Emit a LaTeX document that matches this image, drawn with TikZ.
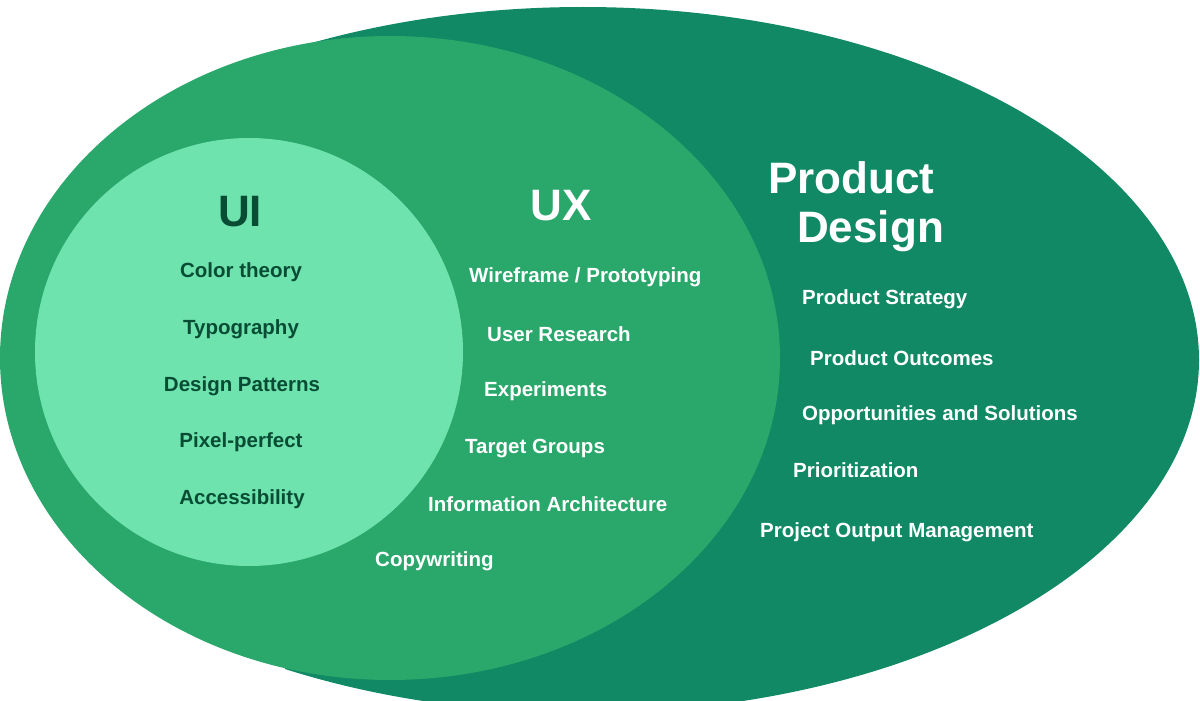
\documentclass[tikz,border=0pt]{standalone}
\usepackage{fontspec}
\setmainfont{Liberation Sans}
\usepackage{tikz}
\usetikzlibrary{positioning}
\usepackage{xcolor}

\definecolor{pdgreen}{RGB}{16,137,100}
\definecolor{uxgreen}{RGB}{42,167,107}
\definecolor{uigreen}{RGB}{110,227,174}
\definecolor{uiink}{RGB}{8,76,52}

\tikzset{
  heading/.style={font=\bfseries\fontsize{44}{48}\selectfont, inner sep=0pt},
  item/.style={font=\bfseries\fontsize{20.5}{24}\selectfont, inner sep=0pt, yshift=-1.5pt},
  uiitem/.style={item, text=uiink},
  uxitem/.style={item, text=white, anchor=west},
  pditem/.style={item, text=white, anchor=west},
}

\begin{document}
\begin{tikzpicture}[x=1pt, y=-1pt]
  \useasboundingbox (0,0) rectangle (1200,701);
  % the three sets
  \begin{scope}
    \clip (285,0) rectangle (1200,701);
    \fill[pdgreen] (583,360) ellipse [x radius=616pt, y radius=353pt];
  \end{scope}
  \fill[uxgreen] (390,358) ellipse [x radius=390pt, y radius=322pt];
  \fill[uigreen] (249,352) circle [radius=214pt];

  % UI
  \node[heading, text=uiink] (ui) at (240,212) {UI};
  \node[uiitem] (uiColor) at (241,271) {Color theory};
  \node[uiitem] (uiType) at (241,328) {Typography};
  \node[uiitem] (uiPatterns) at (242,385) {Design Patterns};
  \node[uiitem] (uiPixel) at (241,441) {Pixel-perfect};
  \node[uiitem] (uiAccess) at (242,498) {Accessibility};

  % UX
  \node[heading, text=white] (ux) at (561,206) {UX};
  \node[uxitem] (uxWire) at (469,276) {Wireframe / Prototyping};
  \node[uxitem] (uxResearch) at (487,333) {User Research};
  \node[uxitem] (uxExp) at (484,390) {Experiments};
  \node[uxitem] (uxTarget) at (465,447) {Target Groups};
  \node[uxitem] (uxInfo) at (428,503) {Information Architecture};
  \node[uxitem] (uxCopy) at (375,560) {Copywriting};

  % Product Design
  \node[heading, text=white, anchor=west] (pd) at (768,178) {Product};
  \node[heading, text=white, anchor=west] (pdDesign) at (797,231) {Design};
  \node[pditem] (pdStrategy) at (802,298) {Product Strategy};
  \node[pditem] (pdOutcomes) at (810,357) {Product Outcomes};
  \node[pditem] (pdOpp) at (802,414) {Opportunities and Solutions};
  \node[pditem] (pdPrio) at (793,469) {Prioritization};
  \node[pditem] (pdOutput) at (760,531) {Project Output Management};
\end{tikzpicture}
\end{document}
